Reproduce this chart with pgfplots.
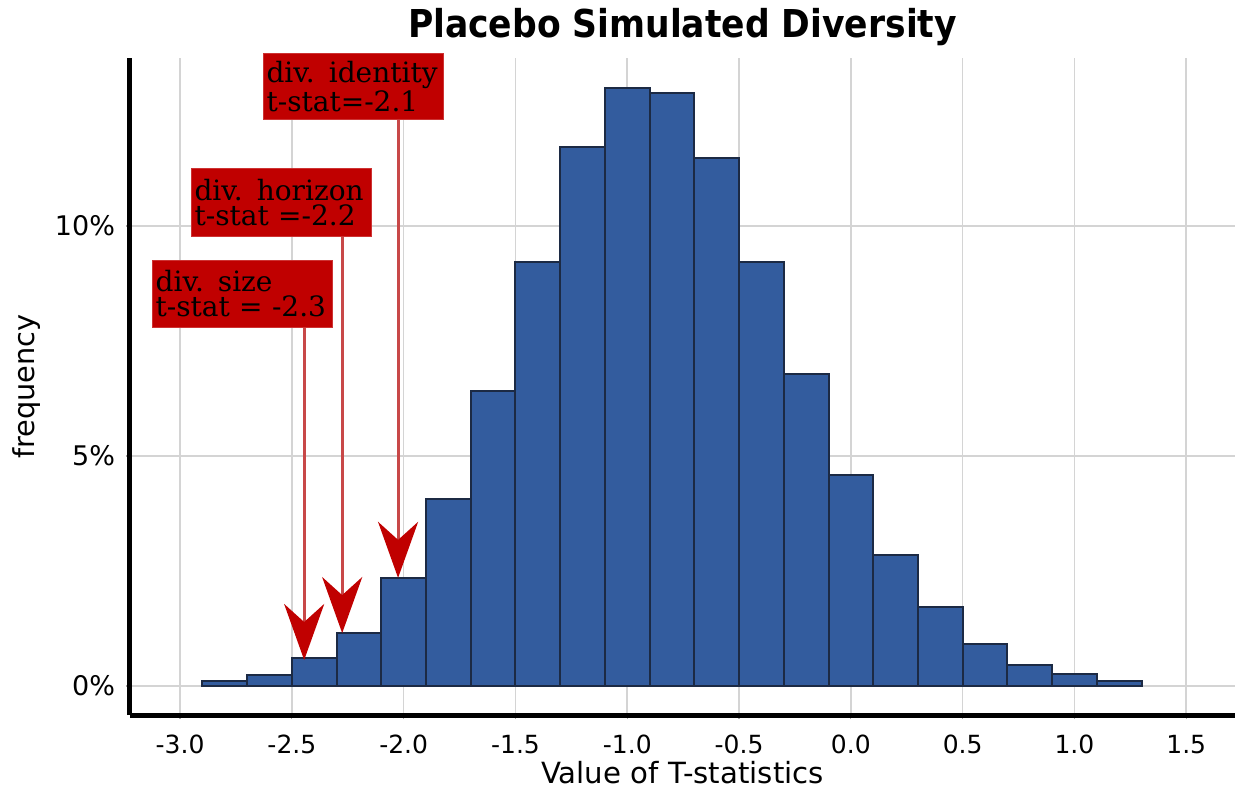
\documentclass[border=0pt]{standalone}
\usepackage{pgfplots}
\pgfplotsset{compat=1.18}
\usetikzlibrary{arrows.meta}
\usepackage{fontspec}
\setmainfont{DejaVu Sans}
\newfontfamily\annfont{DejaVu Serif}
\newfontfamily\titlefont{DejaVu Sans Condensed}
\definecolor{barblue}{HTML}{335C9E}
\definecolor{baredge}{HTML}{1C2A44}
\definecolor{boxred}{HTML}{C00000}
\definecolor{shaftred}{HTML}{C84848}
\definecolor{gridgray}{HTML}{D4D4D4}
\begin{document}
\begin{tikzpicture}
\begin{axis}[
  name=main,
  scale only axis,
  width=552.5pt, height=328.5pt,
  xmin=-3.224, xmax=1.718,
  ymin=-0.63, ymax=13.65,
  axis lines=left,
  axis line style={-, line width=2.5pt, black},
  xtick={-3,-2.5,-2,-1.5,-1,-0.5,0,0.5,1,1.5},
  xticklabels={-3.0,-2.5,-2.0,-1.5,-1.0,-0.5,0.0,0.5,1.0,1.5},
  ytick={0,5,10},
  yticklabels={0\%,5\%,10\%},
  grid=major,
  major grid style={gridgray, line width=0.8pt},
  tick align=outside,
  major tick length=2pt,
  tick style={gray!70, line width=0.6pt},
  xticklabel style={font=\fontsize{12.5}{14}\selectfont, anchor=base, yshift=-17pt},
  yticklabel style={font=\fontsize{13.5}{16}\selectfont, anchor=east, xshift=-2pt},
  title={Placebo Simulated Diversity},
  title style={at={(axis description cs:0.5,1)}, anchor=base, yshift=4.5pt, font=\titlefont\bfseries\fontsize{19.2}{23}\selectfont},
  xlabel={Value of T-statistics},
  xlabel style={at={(axis description cs:0.5,0)}, anchor=base, yshift=-34pt, font=\fontsize{14.6}{17}\selectfont},
  ylabel={frequency},
  ylabel style={at={(axis description cs:-0.086,0.5)}, anchor=base, rotate=0, font=\fontsize{14.4}{17}\selectfont},
  clip=false,
]
\addplot[ybar interval, fill=barblue, draw=baredge, line width=1pt] coordinates {
(-2.9,0.11) (-2.7,0.25) (-2.5,0.60) (-2.3,1.15) (-2.1,2.35) (-1.9,4.07)
(-1.7,6.41) (-1.5,9.22) (-1.3,11.72) (-1.1,13.00) (-0.9,12.89) (-0.7,11.48)
(-0.5,9.22) (-0.3,6.78) (-0.1,4.59) (0.1,2.85) (0.3,1.72) (0.5,0.91)
(0.7,0.46) (0.9,0.26) (1.1,0.11) (1.3,0.11)
};
% arrows
\draw[shaftred, line width=1.5pt, -{Stealth[length=28pt, width=20pt, inset=9pt, color=boxred]}]
  (axis cs:-2.445,7.83) -- (axis cs:-2.445,0.565);
\draw[shaftred, line width=1.5pt, -{Stealth[length=28pt, width=20pt, inset=9pt, color=boxred]}]
  (axis cs:-2.275,9.78) -- (axis cs:-2.275,1.15);
\draw[shaftred, line width=1.5pt, -{Stealth[length=28pt, width=20pt, inset=9pt, color=boxred]}]
  (axis cs:-2.025,12.35) -- (axis cs:-2.025,2.35);
% boxes
\node[anchor=north west, fill=boxred, draw=boxred!80!white, line width=0.5pt,
  text width=87pt, minimum height=33pt, inner xsep=1.5pt, inner ysep=0.5pt, align=left,
  font=\annfont\fontsize{14}{12.5}\selectfont] at (axis cs:-2.629,13.76) {div. identity\\t-stat=-2.1};
\node[anchor=north west, fill=boxred, draw=boxred!80!white, line width=0.5pt,
  text width=87pt, minimum height=34pt, inner xsep=1.5pt, inner ysep=0.5pt, align=left,
  font=\annfont\fontsize{14}{12.5}\selectfont] at (axis cs:-2.951,11.26) {div. horizon\\t-stat =-2.2};
\node[anchor=north west, fill=boxred, draw=boxred!80!white, line width=0.5pt,
  text width=87pt, minimum height=33.5pt, inner xsep=1.5pt, inner ysep=0.5pt, align=left,
  font=\annfont\fontsize{14}{12.5}\selectfont] at (axis cs:-3.125,9.26) {div. size\\t-stat = -2.3};
\end{axis}
\pgfresetboundingbox
\path[use as bounding box] ([shift={(-65pt,-39.5pt)}]main.south west) rectangle ([shift={(1.5pt,29pt)}]main.north east);
\end{tikzpicture}
\end{document}
